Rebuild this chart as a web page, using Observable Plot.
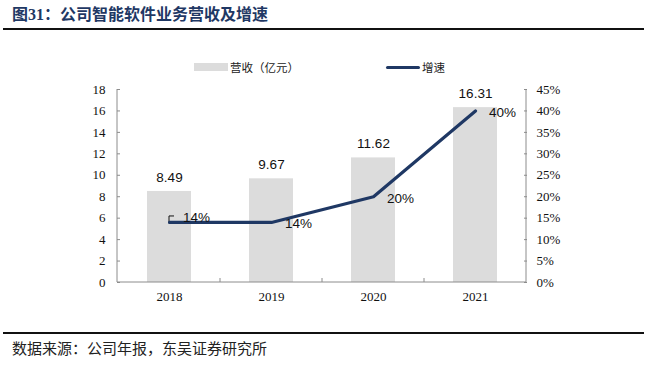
<!DOCTYPE html>
<html>
<head>
<meta charset="utf-8">
<script src="https://cdn.jsdelivr.net/npm/d3@7"></script>
<script src="https://cdn.jsdelivr.net/npm/@observablehq/plot@0.6"></script>
<style>
  html, body { margin: 0; padding: 0; background: #fff; }
  #wrap { position: relative; width: 671px; height: 368px; overflow: hidden; font-family: "Noto Sans CJK SC", sans-serif; }
  #wrap svg { position: absolute; left: 0; top: 0; }
  .title { position: absolute; left: 12px; top: 2px; font-size: 16px; font-weight: bold; color: #1f3864; line-height: 22px; white-space: nowrap; }
  .title .num { font-family: "Liberation Serif", serif; }
  .hr { position: absolute; left: 3px; width: 641px; height: 2px; background: #111; }
  .footer { position: absolute; left: 12px; top: 337px; font-size: 15px; color: #222; line-height: 22px; white-space: nowrap; }
  .legend { position: absolute; top: 58px; height: 18px; font-size: 11.5px; color: #222; line-height: 18px; white-space: nowrap; }
  .sw-bar { position: absolute; width: 34px; height: 8px; background: #dcdcdc; top: 5px; }
  .sw-line { position: absolute; width: 34px; height: 3px; background: #1f3864; top: 8px; border-radius: 2px; }
</style>
</head>
<body>
<div id="wrap">
  <div class="title">图<span class="num">31</span>：公司智能软件业务营收及增速</div>
  <div class="hr" style="top:28px"></div>
  <div id="chart"></div>
  <div class="legend" style="left:194px"><div class="sw-bar" style="left:0"></div><span style="position:absolute;left:36px">营收（亿元）</span></div>
  <div class="legend" style="left:386px"><div class="sw-line" style="left:0"></div><span style="position:absolute;left:36px">增速</span></div>
  <div class="hr" style="top:332px"></div>
  <div class="footer">数据来源：公司年报，东吴证券研究所</div>
</div>
<script>
const years = ["2018", "2019", "2020", "2021"];
const revenue = [8.49, 9.67, 11.62, 16.31];
const growth = [14, 14, 20, 40];
const revTicks = [0, 2, 4, 6, 8, 10, 12, 14, 16, 18];
const pctTicks = [0, 5, 10, 15, 20, 25, 30, 35, 40, 45];

const revMax = 18, pctMax = 45;
const toY = p => p * revMax / pctMax;

const data = years.map((year, i) => ({year, revenue: revenue[i], growth: growth[i], gy: toY(growth[i])}));
const pctPos = pctTicks.map(toY);

const axisColor = "#8c8c8c";
const serif = "'Liberation Serif', 'Times New Roman', serif";
const sans = "'Liberation Sans', Arial, sans-serif";

// axis lines, band-boundary ticks and the small leader for the first label, positioned through the scales
function axisFrame(index, scales, values, dims) {
  const g = d3.create("svg:g");
  const x = scales.x, y = scales.y;
  const x0 = dims.marginLeft, x1 = dims.width - dims.marginRight;
  const yb = y(0), yt = y(revMax);
  g.append("line").attr("x1", x0).attr("x2", x1).attr("y1", yb).attr("y2", yb).attr("stroke", axisColor);
  g.append("line").attr("x1", x0).attr("x2", x0).attr("y1", yt).attr("y2", yb).attr("stroke", axisColor);
  g.append("line").attr("x1", x1).attr("x2", x1).attr("y1", yt).attr("y2", yb).attr("stroke", axisColor);
  const bw = x.bandwidth ? x.bandwidth() : (x(years[1]) - x(years[0])) * 0.43;
  for (let i = 0; i < years.length - 1; i++) {
    const bx = (x(years[i]) + bw + x(years[i + 1])) / 2;
    g.append("line").attr("x1", bx).attr("x2", bx).attr("y1", yb).attr("y2", yb - 4).attr("stroke", axisColor);
  }
  // leader line from first growth point to its label
  const px = x(years[0]) + bw / 2, py = y(data[0].gy);
  g.append("path").attr("d", `M${px},${py} V${py - 6} H${px + 5}`).attr("fill", "none").attr("stroke", "#111").attr("stroke-width", 1);
  return g.node();
}

const chart = Plot.plot({
  width: 671,
  height: 368,
  marginLeft: 117,
  marginRight: 145,
  marginTop: 89,
  marginBottom: 86,
  style: {background: "transparent", overflow: "visible"},
  x: {domain: years, paddingInner: 0.57, paddingOuter: 0.285, axis: null, label: null},
  y: {domain: [0, revMax], axis: null, label: null},
  marks: [
    Plot.barY(data, {x: "year", y: "revenue", fill: "#dcdcdc"}),
    axisFrame,
    // left axis
    Plot.axisY(revTicks, {anchor: "left", tickSize: 3, dx: 3, text: null, stroke: axisColor, label: null}),
    Plot.axisY(revTicks, {anchor: "left", tickSize: 0, tickPadding: 12, fontSize: 13, fontFamily: serif, fill: "#111", label: null, className: "serifaxis"}),
    // right axis
    Plot.axisY(pctPos, {anchor: "right", tickSize: 3, dx: -3, text: null, stroke: axisColor, label: null}),
    Plot.axisY(pctPos, {anchor: "right", tickSize: 0, tickPadding: 10, fontSize: 13, fontFamily: serif, fill: "#111", label: null, className: "serifaxis",
      tickFormat: (d, i) => pctTicks[i] + "%"}),
    // x axis labels
    Plot.axisX({anchor: "bottom", tickSize: 0, tickPadding: 9, fontSize: 13, fontFamily: serif, fill: "#111", label: null, className: "serifaxis"}),
    // growth line
    Plot.line(data, {x: "year", y: "gy", stroke: "#1f3864", strokeWidth: 3.2, strokeLinejoin: "round", strokeLinecap: "round"}),
    // revenue labels
    Plot.text(data, {x: "year", y: "revenue", text: d => d.revenue.toFixed(2), dy: -14, fontSize: 13.5, fontFamily: sans, fill: "#111"}),
    // growth labels
    Plot.text(data.slice(0, 1), {x: "year", y: "gy", text: d => d.growth + "%", dx: 27, dy: -5, fontSize: 13.5, fontFamily: sans, fill: "#111"}),
    Plot.text(data.slice(1), {x: "year", y: "gy", text: d => d.growth + "%", dx: 27, dy: 1.5, fontSize: 13.5, fontFamily: sans, fill: "#111"})
  ]
});
// ensure tick labels use the serif face
d3.select(chart).selectAll("g[aria-label*='axis'] text, .serifaxis text, g.serifaxis text")
  .attr("font-family", serif).style("font-family", serif);
document.getElementById("chart").appendChild(chart);
</script>
</body>
</html>
